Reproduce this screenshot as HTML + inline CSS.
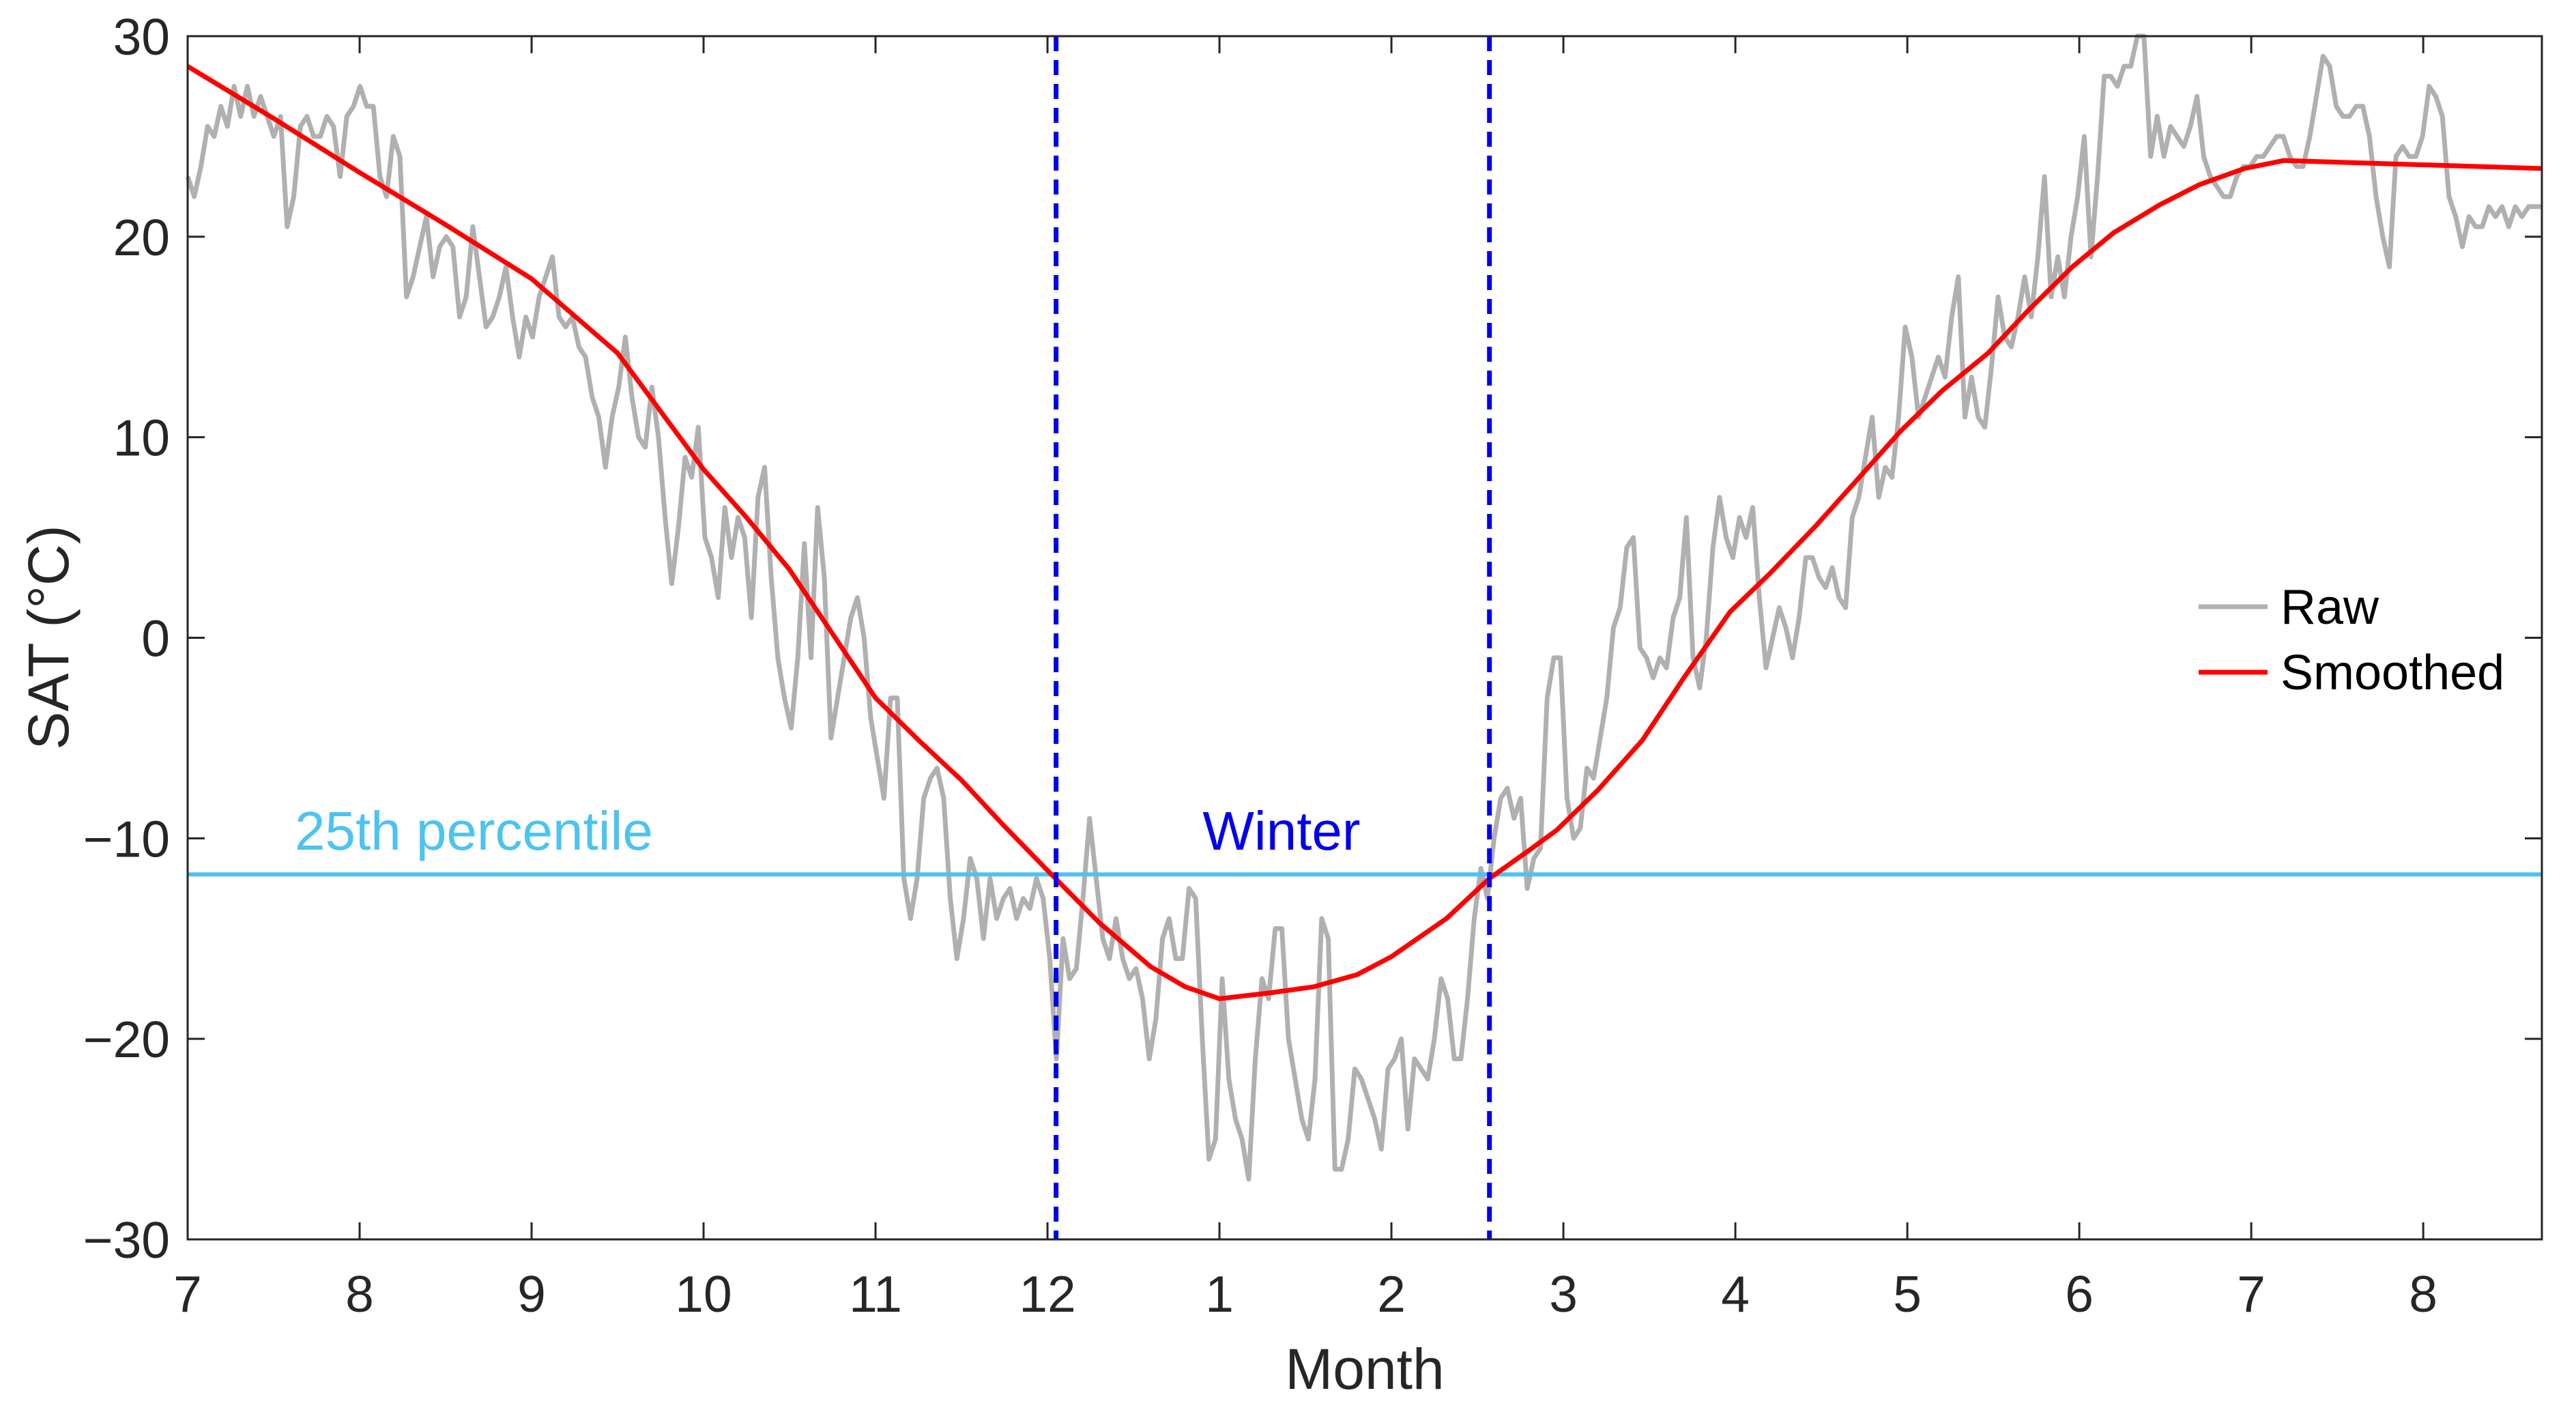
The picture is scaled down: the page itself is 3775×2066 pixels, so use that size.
<!DOCTYPE html>
<html><head><meta charset="utf-8"><style>
html,body{margin:0;padding:0;background:#fff;}
svg{display:block;font-family:"Liberation Sans",Arial,sans-serif;}
</style></head><body>
<svg id="chart" width="3775" height="2066" viewBox="0 0 3775 2066" xmlns="http://www.w3.org/2000/svg">
<rect width="3775" height="2066" fill="#fff"/>
<g id="plot"></g>
</svg>
<script>
// ---- data ----
const xTickLabels = ["7","8","9","10","11","12","1","2","3","4","5","6","7","8"];
const xTickMonths = [0,1,2,3,4,5,6,7,8,9,10,11,12,13];
const yTicks = [-30,-20,-10,0,10,20,30];
const xMax = 13.69;
const winterStart = 5.05;
const winterEnd = 7.57;
const percentile25 = -11.8;
const smoothMonths = [0,0.5,1,1.5,2,2.5,3,3.25,3.5,3.75,4,4.25,4.5,4.75,5,5.3,5.6,5.8,6,6.3,6.55,6.8,7,7.32,7.57,7.8,7.96,8.2,8.46,8.7,8.97,9.2,9.47,9.7,9.96,10.2,10.47,10.7,10.96,11.2,11.47,11.7,11.96,12.19,13.69];
const smoothValues = [28.5,25.9,23.2,20.6,17.9,14.2,8.4,6,3.4,0.2,-3,-5.1,-7.1,-9.4,-11.6,-14.2,-16.4,-17.4,-18,-17.7,-17.4,-16.8,-15.9,-14,-12,-10.6,-9.6,-7.6,-5.1,-2,1.3,3.2,5.6,7.8,10.3,12.3,14.2,16.3,18.5,20.2,21.6,22.6,23.4,23.8,23.4];
const rawValues = [23,22,23.5,25.5,25,26.5,25.5,27.5,26,27.5,26,27,26,25,26,20.5,22,25.5,26,25,25,26,25.5,23,26,26.5,27.5,26.5,26.5,23,22,25,24,17,18,19.5,21,18,19.5,20,19.5,16,17,20.5,18,15.5,16,17,18.5,16,14,16,15,17,18,19,16,15.5,16,14.5,14,12,11,8.5,11,12.5,15,12,10,9.5,12.5,10,6,2.7,5.5,9,8,10.5,5,4,2,6.5,4,6,5,1,7,8.5,3,-1,-3,-4.5,-1,4.7,-1,6.5,3,-5,-3,-1,1,2,0,-4,-6,-8,-3,-3,-12,-14,-12,-8,-7,-6.5,-8,-13,-16,-14,-11,-12,-15,-12,-14,-13,-12.5,-14,-13,-13.5,-12,-13,-16,-21,-15,-17,-16.5,-13,-9,-12,-15,-16,-14,-16,-17,-16.5,-18,-21,-19,-15,-14,-16,-16,-12.5,-13,-20,-26,-25,-17,-22,-24,-25,-27,-21,-17,-18,-14.5,-14.5,-20,-22,-24,-25,-22,-14,-15,-26.5,-26.5,-25,-21.5,-22,-23,-24,-25.5,-21.5,-21,-20,-24.5,-21,-21.5,-22,-20,-17,-18,-21,-21,-18,-14,-11.5,-13,-10,-8,-7.5,-9,-8,-12.5,-11,-10.5,-3,-1,-1,-8,-10,-9.5,-6.5,-7,-5,-3,0.5,1.5,4.5,5,-0.5,-1,-2,-1,-1.5,1,2,6,-1,-2.5,0,4.5,7,5,4,6,5,6.5,2,-1.5,0,1.5,0.5,-1,1,4,4,3,2.5,3.5,2,1.5,6,7,9,11,7,8.5,8,11,15.5,14,11,12,13,14,13,16,18,11,13,11,10.5,13.5,17,15,14.5,16,18,16,19,23,17,19,17,20,22,25,19,23,28,28,27.5,28.5,28.5,30,30,24,26,24,25.5,25,24.5,25.5,27,24,23,22.5,22,22,23,23.5,23.5,24,24,24.5,25,25,24,23.5,23.5,25,27,29,28.5,26.5,26,26,26.5,26.5,25,22,20,18.5,24,24.5,24,24,25,27.5,27,26,22,21,19.5,21,20.5,20.5,21.5,21,21.5,20.5,21.5,21,21.5,21.5,21.5];

// ---- layout ----
const L=275,R=3725,T=53,B=1816;
const xs=m=>L+m*(R-L)/xMax;
const ys=v=>T+(30-v)*(B-T)/60;
const NS="http://www.w3.org/2000/svg";
const g=document.getElementById('plot');
function mk(tag,attrs,parent){const e=document.createElementNS(NS,tag);for(const k in attrs)e.setAttribute(k,attrs[k]);(parent||g).appendChild(e);return e;}

// raw line
const rawStep=xMax/(rawValues.length-1);
let d=rawValues.map((v,i)=>(i?'L':'M')+xs(i*rawStep).toFixed(1)+','+ys(Math.min(v,30.4)).toFixed(1)).join('');
const raw=mk('path',{d:d,fill:'none',stroke:'#b0b0b0','stroke-width':7,'stroke-linejoin':'round'});



// percentile line
const pl=mk('line',{x1:L,x2:R,y1:ys(percentile25),y2:ys(percentile25),stroke:'#4cc3f1','stroke-width':6});



// smoothed
d=smoothMonths.map((m,i)=>(i?'L':'M')+xs(m).toFixed(1)+','+ys(smoothValues[i]).toFixed(1)).join('');
const sm=mk('path',{d:d,fill:'none',stroke:'#ff0000','stroke-width':7,'stroke-linejoin':'round'});



// winter bounds
[winterStart,winterEnd].forEach((m,i)=>{
  const l=mk('line',{x1:xs(m),x2:xs(m),y1:T,y2:B,stroke:'#0000ee','stroke-width':7,'stroke-dasharray':'22,13'});
  
  
});

// axes box
const box=mk('rect',{x:L,y:T,width:R-L,height:B-T,fill:'none',stroke:'#262626','stroke-width':3});



// x ticks
xTickMonths.forEach((m,i)=>{
  const x=xs(m);
  mk('line',{x1:x,x2:x,y1:B,y2:B-25,stroke:'#262626','stroke-width':3});
  mk('line',{x1:x,x2:x,y1:T,y2:T+25,stroke:'#262626','stroke-width':3});
  const t=mk('text',{x:x,y:1922,'font-size':75,'text-anchor':'middle',fill:'#262626'});
  t.textContent=xTickLabels[i];
  
  
});
// y ticks
yTicks.forEach(v=>{
  const y=ys(v);
  mk('line',{x1:L,x2:L+25,y1:y,y2:y,stroke:'#262626','stroke-width':3});
  mk('line',{x1:R,x2:R-25,y1:y,y2:y,stroke:'#262626','stroke-width':3});
  const t=mk('text',{x:249,y:y+27,'font-size':75,'text-anchor':'end',fill:'#262626'});
  t.textContent=v<0?'\u2212'+Math.abs(v):String(v);
  
  
});

// titles
const xt=mk('text',{x:2000,y:2035,'font-size':84,'text-anchor':'middle',fill:'#262626'});
xt.textContent='Month';


const yt=mk('text',{x:0,y:0,'font-size':84,'text-anchor':'middle',fill:'#262626',transform:'translate(100,934) rotate(-90)'});
yt.textContent='SAT (\u00B0C)';



// annotations
const pt=mk('text',{x:432,y:1245,'font-size':80,fill:'#4cc3f1'});
pt.textContent='25th percentile';


const wt=mk('text',{x:1878,y:1245,'font-size':80,'text-anchor':'middle',fill:'#0000ee'});
wt.textContent='Winter';



// legend
const lg=mk('g',{});


mk('line',{x1:3222,x2:3323,y1:889,y2:889,stroke:'#b0b0b0','stroke-width':7},lg);
mk('line',{x1:3222,x2:3323,y1:985,y2:985,stroke:'#ff0000','stroke-width':7},lg);
const l1=mk('text',{x:3342,y:914,'font-size':72,fill:'#000'},lg);
l1.textContent='Raw';


const l2=mk('text',{x:3342,y:1010,'font-size':72,fill:'#000'},lg);
l2.textContent='Smoothed';


</script>
</body></html>
